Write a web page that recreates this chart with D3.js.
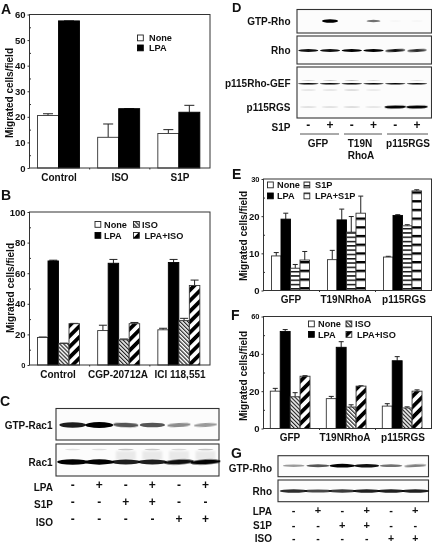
<!DOCTYPE html>
<html><head><meta charset="utf-8">
<script src="https://cdn.jsdelivr.net/npm/d3@7"></script>
<style>
html,body{margin:0;padding:0;background:#fff}
svg{display:block;filter:blur(0.3px)}
text{font-family:"Liberation Sans",Arial,sans-serif;font-weight:bold;fill:#111}
</style></head><body>
<svg id="fig" width="432" height="544"></svg>
<script>
// ---------- Data ----------
const seriesNoneLpa = ["None","LPA"];
const seriesIso = ["None","LPA","ISO","LPA+ISO"];
const seriesS1p = ["None","LPA","S1P","LPA+S1P"];

const groupsA = ["Control","ISO","S1P"];
const noneA = [20.5,12,13.5],  noneAErr = [21.2,17.2,15];
const lpaA  = [57.5,23.2,21.8], lpaAErr = [57.5,23.2,24.5];

const groupsB = ["Control","CGP-20712A","ICI 118,551"];
const noneB = [18,22.5,23],   noneBErr = [18.3,26,24];
const lpaB  = [68,66.5,67],   lpaBErr  = [68.5,69,69];
const isoB  = [14,16.5,29],   isoBErr  = [14.3,17,30.5];
const lpaIsoB = [27,27,52],   lpaIsoBErr = [27.2,27.8,55.5];

const groupsEF = ["GFP","T19NRhoA","p115RGS"];
const noneE = [9.3,8.3,9],     noneEErr = [10.2,10.8,9.2];
const lpaE  = [19.2,19,20.2],  lpaEErr  = [20.8,21.9,20.4];
const s1pE  = [6,15.7,17.4],   s1pEErr  = [7,19.9,17.7];
const lpaS1pE = [8.2,20.8,26.8], lpaS1pEErr = [10.5,25.4,27.1];

const noneF = [20,16,12],      noneFErr = [21.5,17.2,13.3];
const lpaF  = [52,43.5,36.3],  lpaFErr  = [53,46.5,38.5];
const isoF  = [17,11.5,11],    isoFErr  = [19.2,12.7,11.6];
const lpaIsoF = [28,22.7,20],  lpaIsoFErr = [28.3,22.9,20.7];

// blot band strengths per lane (0..1)
const gtpRac1 = [.8,1,.6,.6,.4,.35];
const rac1    = [1,.95,.8,.8,.85,.9];
const rac1Up  = [.1,.1,.2,.18,.12,.2];
const gtpRhoD = [0,1,0,.5,.02,.02];
const rhoD    = [.85,.85,.9,.9,.85,.75];
const gefD    = [.95,.95,.95,.9,.9,.9];
const gefUpD  = [.18,.22,.25,.15,0,.12];
const gefLoD  = [.1,.1,.14,.08,0,0];
const rgsD    = [.12,.12,.14,.1,1,1];
const gtpRhoG = [.35,.6,.95,.85,.5,.45];
const rhoG    = [.75,.65,.7,.8,.8,.8];
const lpaSigns = ["-","+","-","+","-","+"];
const s1pSigns = ["-","-","+","+","-","-"];
const isoSigns = ["-","-","-","-","+","+"];
const s1pSignsD = ["-","+","-","+","-","+"];
const yTitle = "Migrated cells/field";

// ---------- Setup ----------
const svg = d3.select("#fig");
const defs = svg.append("defs");
[["soft",1],["softer",0.55],["smear",3]].forEach(([id,s])=>{
  defs.append("filter").attr("id",id).attr("x","-30%").attr("y","-200%").attr("width","160%").attr("height","500%")
    .append("feGaussianBlur").attr("stdDeviation",s);
});
function pat(id,size,rot,draw){
  const p = defs.append("pattern").attr("id",id).attr("patternUnits","userSpaceOnUse")
    .attr("width",size).attr("height",size).attr("patternTransform",rot?`rotate(${rot})`:null);
  p.append("rect").attr("width",size).attr("height",size).attr("fill","#fff");
  draw(p);
}
pat("hatchThin",2.8,-45,p=>p.append("rect").attr("width",1.2).attr("height",2.8).attr("fill","#222"));
pat("hatchThick",7.5,45,p=>p.append("rect").attr("width",3.8).attr("height",7.5).attr("fill","#000"));
pat("stripeThin",4.3,0,p=>p.append("rect").attr("width",4.3).attr("height",1.5).attr("fill","#111"));
pat("stripeThick",8.7,0,p=>p.append("rect").attr("width",8.7).attr("height",2.4).attr("fill","#000"));

const text = (x,y,s,size=10,anchor="start",g=svg)=>g.append("text").attr("x",x).attr("y",y).attr("font-size",size)
   .attr("text-anchor",anchor).attr("dominant-baseline","central").text(s);

// ---------- Bar chart ----------
function barPanel(o){
  const g = svg.append("g");
  const x0 = d3.scaleBand().domain(o.groups).range([o.x0,o.x1]);
  const x1 = d3.scaleBand().domain(o.series).range(o.inner);
  const y  = d3.scaleLinear().domain([0,o.max]).range([o.y0,o.y1]);

  o.series.forEach((s,si)=>{
    const vals=o.values[si], errs=o.errs[si], fill=o.fills[si];
    const sel=g.append("g").selectAll("g").data(o.groups).join("g");
    sel.append("line")
      .attr("x1",d=>x0(d)+x1(s)+x1.bandwidth()/2).attr("x2",d=>x0(d)+x1(s)+x1.bandwidth()/2)
      .attr("y1",(d,i)=>y(vals[i])).attr("y2",(d,i)=>y(errs[i])).attr("stroke","#222");
    sel.append("line")
      .attr("x1",d=>x0(d)+x1(s)+x1.bandwidth()/2-o.cap).attr("x2",d=>x0(d)+x1(s)+x1.bandwidth()/2+o.cap)
      .attr("y1",(d,i)=>y(errs[i])).attr("y2",(d,i)=>y(errs[i])).attr("stroke","#222");
    sel.append("rect")
      .attr("x",d=>x0(d)+x1(s)).attr("width",x1.bandwidth())
      .attr("y",(d,i)=>y(vals[i])).attr("height",(d,i)=>y(0)-y(vals[i]))
      .attr("fill",fill).attr("stroke",fill==="#000"?"#000":"#333").attr("stroke-width",0.9);
  });

  // frame
  g.append("rect").attr("x",o.x0).attr("y",o.y1).attr("width",o.x1-o.x0).attr("height",o.y0-o.y1)
    .attr("fill","none").attr("stroke","#333").attr("stroke-width",1);

  // axes
  const ay = g.append("g").attr("transform",`translate(${o.x0},0)`)
    .call(d3.axisLeft(y).tickValues(d3.range(0,o.max+1,o.major)).tickSize(2).tickPadding(2));
  ay.select(".domain").remove();
  ay.selectAll("text").attr("font-size",9.5).style("font-family",'"Liberation Sans"').style("font-weight","bold").attr("fill","#111");
  ay.selectAll(".tick line").attr("stroke","#333");
  if(o.smallTop) ay.selectAll("text").filter(d=>d===o.max).attr("font-size",7.5);
  if(o.smallZero) ay.selectAll("text").filter(d=>d===0).attr("font-size",7.5);
  const am = g.append("g").attr("transform",`translate(${o.x0},0)`)
    .call(d3.axisRight(y).tickValues(d3.range(o.major/2,o.max,o.major)).tickSize(1.5).tickFormat(""));
  am.select(".domain").remove();
  am.selectAll(".tick line").attr("stroke","#333");
  // boundary ticks below axis
  g.selectAll(".bt").data(o.groups.slice(1)).join("line")
    .attr("x1",d=>x0(d)).attr("x2",d=>x0(d)).attr("y1",o.y0).attr("y2",o.y0+1.5).attr("stroke","#333");

  // category labels
  o.groups.forEach((d,i)=>text(o.labelX[i],o.labelY,d,10,"middle"));
  // y title
  g.append("text").attr("transform",`translate(${o.titleX},${o.titleY}) rotate(-90)`)
    .attr("font-size",10).attr("text-anchor","middle").attr("dominant-baseline","central").text(yTitle);
  // legend
  o.legend.forEach((l,i)=>{
    g.append("rect").attr("x",l.bx).attr("y",l.y-3).attr("width",5.8).attr("height",5.8)
      .attr("fill",o.fills[i]).attr("stroke",o.fills[i]==="#000"?"#000":"#222").attr("stroke-width",0.9);
    text(l.tx,l.y,o.series[i],9.2);
  });
}

barPanel({groups:groupsA,series:seriesNoneLpa,values:[noneA,lpaA],errs:[noneAErr,lpaAErr],fills:["#fff","#000"],
  x0:29.5,x1:210,y0:168,y1:14.5,max:60,major:10,inner:[8,50],cap:5,
  labelX:[59,120,180],labelY:177,titleX:9.5,titleY:93,
  legend:[{bx:137.5,tx:149,y:38},{bx:137.5,tx:149,y:48}]});

barPanel({groups:groupsB,series:seriesIso,values:[noneB,lpaB,isoB,lpaIsoB],errs:[noneBErr,lpaBErr,isoBErr,lpaIsoBErr],
  fills:["#fff","#000","url(#hatchThin)","url(#hatchThick)"],
  x0:29.5,x1:210,y0:365,y1:212,max:100,major:20,inner:[8,50],cap:4,smallZero:true,
  labelX:[58,118,180],labelY:374,titleX:10,titleY:288,
  legend:[{bx:95,tx:104,y:224.5},{bx:95,tx:104,y:235.5},{bx:133.5,tx:142,y:224.5},{bx:133.5,tx:144.5,y:235.5}]});

barPanel({groups:groupsEF,series:seriesS1p,values:[noneE,lpaE,s1pE,lpaS1pE],errs:[noneEErr,lpaEErr,s1pEErr,lpaS1pEErr],
  fills:["#fff","#000","url(#stripeThin)","url(#stripeThick)"],
  x0:263.5,x1:431.5,y0:290.5,y1:179,max:30,major:10,inner:[8,46],cap:2.5,smallTop:true,
  labelX:[291,346,404],labelY:299,titleX:243,titleY:236,
  legend:[{bx:267.5,tx:277,y:185},{bx:267.5,tx:277,y:196},{bx:304,tx:315,y:185},{bx:304,tx:315,y:196}]});

barPanel({groups:groupsEF,series:seriesIso,values:[noneF,lpaF,isoF,lpaIsoF],errs:[noneFErr,lpaFErr,isoFErr,lpaIsoFErr],
  fills:["#fff","#000","url(#hatchThin)","url(#hatchThick)"],
  x0:263.5,x1:431.5,y0:428.5,y1:316.5,max:60,major:20,inner:[6.8,46.5],cap:2.5,smallTop:true,
  labelX:[290,345,403],labelY:437,titleX:243,titleY:376,
  legend:[{bx:308.5,tx:318,y:324},{bx:308.5,tx:318,y:334.5},{bx:346,tx:355,y:324},{bx:346,tx:357,y:334.5}]});

// ---------- Blots ----------
function box(x0,x1,y0,y1){
  svg.append("rect").attr("x",x0).attr("y",y0).attr("width",x1-x0).attr("height",y1-y0)
    .attr("fill","#fcfcfc").attr("stroke","#333").attr("stroke-width",1.1);
}
function bands(lane,vals,y,o){
  svg.append("g").selectAll("ellipse").data(vals).join("ellipse")
    .attr("cx",(d,i)=>lane(i)).attr("cy",y)
    .attr("rx",d=>o.w*(o.fixedW?1:(.75+.25*d))).attr("ry",d=>o.h*(o.fixedH?1:(.45+.55*d)))
    .attr("fill",o.color||"#000").attr("opacity",d=>o.op?o.op*d:Math.min(1,d*1.1))
    .attr("filter",`url(#${o.f||"softer"})`)
    .attr("transform",(d,i)=>o.rot?`rotate(${o.rot(i)} ${lane(i)} ${y})`:null);
}
function signs(lane,rows,o){
  rows.forEach((r,k)=>{
    r.forEach((s,i)=>text(lane(i),o.ys[k],s,o.size||12,"middle"));
  });
}
const laneScale=(a,b)=>d3.scalePoint().domain(d3.range(6)).range([a,b]);

// C
const lc = laneScale(72.7,205.5);
box(56,219,408.5,440);
box(56,219,444,476);
bands(lc,gtpRac1,425,{w:14,h:3,rot:i=>i>3?-3:(i===2?2:0)});
bands(lc,rac1Up,449.5,{w:10,h:1.4,f:"softer"});
[2,3,4,5].forEach(i=>svg.append("rect").attr("x",lc(i)-10).attr("y",451).attr("width",20).attr("height",9)
  .attr("fill","#000").attr("opacity",.07).attr("filter","url(#soft)"));
bands(lc,rac1,462,{w:15.5,h:2.7,rot:i=>i>3?-3:0});
[["GTP-Rac1",425.5],["Rac1",462]].forEach(([t,y])=>text(52.5,y,t,10,"end"));
[["LPA",487],["S1P",504.5],["ISO",522]].forEach(([t,y])=>text(53,y,t,10,"end"));
signs(lc,[lpaSigns,s1pSigns,isoSigns],{ys:[484.5,502,519]});

// D
const ld = d3.scalePoint().domain(d3.range(6)).range([308.3,417]);
box(297,431.5,9.5,33);
box(297,431.5,36,64);
box(297,431.5,67,118);
bands(ld,gtpRhoD,21,{w:8,h:1.7,f:"softer"});
bands(ld,rhoD,50.5,{w:10.5,h:1.6,rot:i=>i>3?-3:0});
bands(ld,gefUpD,80.5,{w:9,h:.8,f:"softer"});
bands(ld,gefD,83.7,{w:10.5,h:.7,fixedH:true,f:"softer",op:1.1});
bands(ld,gefLoD,90,{w:10,h:.7,fixedH:true,f:"softer"});
bands(ld,rgsD,107,{w:11,h:1.6,rot:i=>i>3?-1:0});
[["GTP-Rho",21],["Rho",50],["p115Rho-GEF",83.5],["p115RGS",107.5],["S1P",127.5]].forEach(([t,y])=>text(290.5,y,t,10,"end"));
signs(ld,[s1pSignsD],{ys:[125]});
[[300,339],[344,382],[387,428]].forEach(([a,b])=>svg.append("line").attr("x1",a).attr("x2",b).attr("y1",134).attr("y2",134).attr("stroke","#555"));
[["GFP",318,143],["T19N",360,143],["RhoA",361,155],["p115RGS",408,143]].forEach(([t,x,y])=>text(x,y,t,10,"middle"));

// G
const lg = laneScale(293.7,415.3);
box(278,428.5,455.7,476.7);
box(278,428.5,480,501.7);
bands(lg,gtpRhoG,465.7,{w:13,h:1.9,rot:i=>i===5?-3:0});
bands(lg,rhoG,491,{w:14,h:2,fixedW:true});
[["GTP-Rho",468],["Rho",491.5],["LPA",511],["S1P",525],["ISO",538]].forEach(([t,y])=>text(272,y,t,10,"end"));
signs(lg,[lpaSigns,s1pSigns],{ys:[510,524.5],size:11});
signs(lg,[isoSigns],{ys:[537.5],size:10.5});

// Panel letters
[["A",1,8.5,14],["B",1,195,14],["C",0,401,14],["D",232,7.5,13],["E",232,173.5,14],["F",231,314.5,14],["G",231,453,14]]
  .forEach(([t,x,y,s])=>text(x,y,t,s,"start"));
</script>
</body></html>
